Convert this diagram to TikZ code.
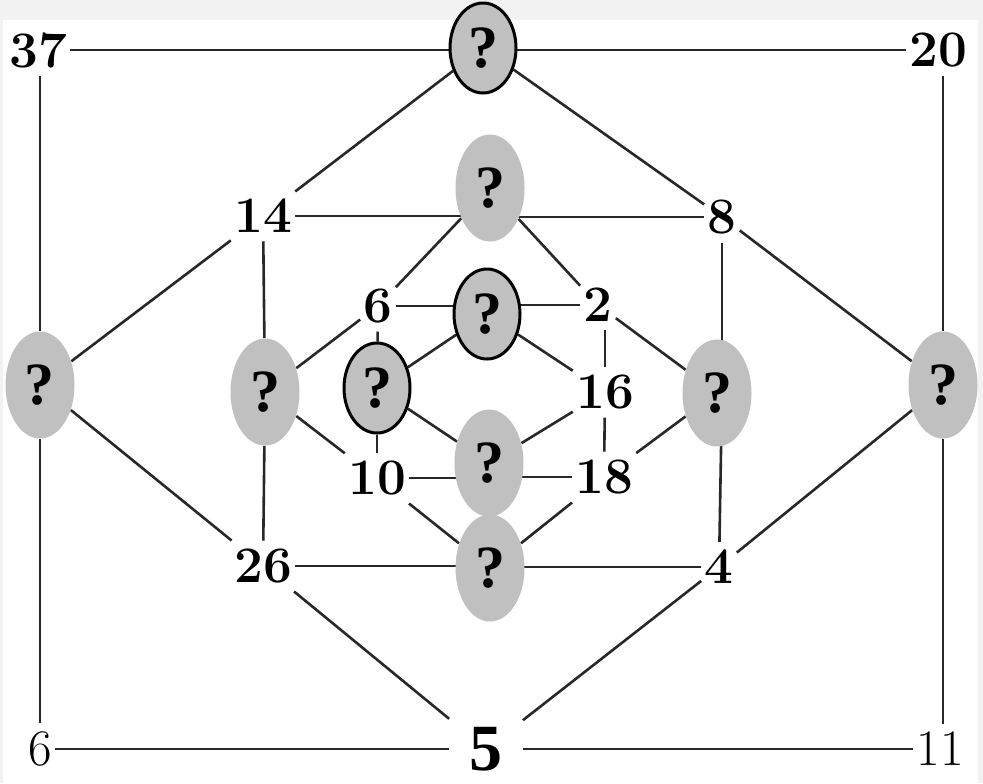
\documentclass[tikz,border=0pt]{standalone}
\usepackage{fontspec}
\usepackage{tikz}
\usetikzlibrary{shapes.geometric, backgrounds}
\newfontfamily\qfont{Liberation Serif}
\definecolor{framegray}{RGB}{242, 242, 242}
\definecolor{qgray}{RGB}{192, 192, 192}
\definecolor{edgecolor}{RGB}{40, 40, 40}

\tikzset{
    num/.style={font=\bfseries\fontsize{25.6}{28}\selectfont, inner xsep=1.5pt, inner ysep=4pt},
    thinnum/.style={num, font=\fontsize{25.6}{28}\selectfont},
    qnode/.style={ellipse, fill=qgray, inner sep=0pt, minimum width=34.5pt, minimum height=53.5pt,
        font=\qfont\bfseries\fontsize{30}{30}\selectfont},
    qring/.style={qnode, draw=black, line width=1.5pt, minimum width=33pt, minimum height=45pt},
    link/.style={edgecolor, line width=1.3pt}
}

\begin{document}
\begin{tikzpicture}[x=0.5pt, y=-0.5pt]
    \useasboundingbox (0,0) rectangle (983,783);

    % Outer ring
    \node[num] (n37) at (38,50) {37};
    \node[qring] (qt) at (483,48) {?};
    \node[num] (n20) at (938,50) {20};
    \node[qnode] (ql) at (40,385) {?};
    \node[qnode] (qr) at (943,385) {?};
    \node[thinnum] (m6) at (40,749) {6};
    \node[font=\qfont\bfseries\fontsize{33}{33}\selectfont, inner xsep=10pt, inner ysep=7pt] (n5) at (486,749) {5};
    \node[thinnum] (n11) at (940,749) {11};

    % Middle ring
    \node[num] (n14) at (263,216) {14};
    \node[qnode] (q2) at (490,188) {?};
    \node[num] (n8) at (722,217) {8};
    \node[qnode] (q3) at (265,392) {?};
    \node[qnode] (q4) at (717,393) {?};
    \node[num] (n26) at (263,566) {26};
    \node[qnode] (q6) at (490,568) {?};
    \node[num] (n4) at (719,567) {4};

    % Inner ring
    \node[num] (n6) at (378,306) {6};
    \node[qring] (qb) at (487,314) {?};
    \node[num] (n2) at (598,305) {2};
    \node[qring] (qc) at (377,388) {?};
    \node[num] (n16) at (605,392) {16};
    \node[num] (n10) at (377,478) {10};
    \node[qnode] (q5) at (489,463) {?};
    \node[num] (n18) at (604,477) {18};

    \begin{scope}[on background layer]
        % Frame
        \fill[framegray] (0,0) rectangle (983,783);
        \fill[white] (3,20) rectangle (978,783);

        % Straight rows run behind the grey nodes
        \foreach \a/\q/\b in {n37/qt/n20, n14/q2/n8, n6/qb/n2, n10/q5/n18, n26/q6/n4} {
            \draw[link] (\a) -- (\q |- \a);
            \draw[link] (\q |- \b) -- (\b);
        }
        \draw[link] (ql |- n37.south) -- (ql);
        \draw[link] (ql) -- (ql |- m6.north);
        \draw[link] (qr |- n20.south) -- (qr);
        \draw[link] (qr) -- (qr |- n11.north);
        \draw[link] (n8) -- (n8 |- q4);
        \draw[link] (n8 |- q4) -- (n4);
        \draw[link] (n16.north) -- (n16.north |- n2.south);

        % Edges
        \foreach \a/\b in {m6/n5, n5/n11, qt/n14, qt/n8, n14/ql, ql/n26, n8/qr, qr/n4, n5/n26, n5/n4,
                           n14/q3, q3/n26, q2/n6, q2/n2, q3/n6, q3/n10, q4/n2, q4/n18, q6/n10, q6/n18,
                           n6/qc, qc/n10, qb/qc, qb/n16, n16/n18, qc/q5, n16/q5} {
            \draw[link] (\a) -- (\b);
        }
    \end{scope}

\end{tikzpicture}
\end{document}
